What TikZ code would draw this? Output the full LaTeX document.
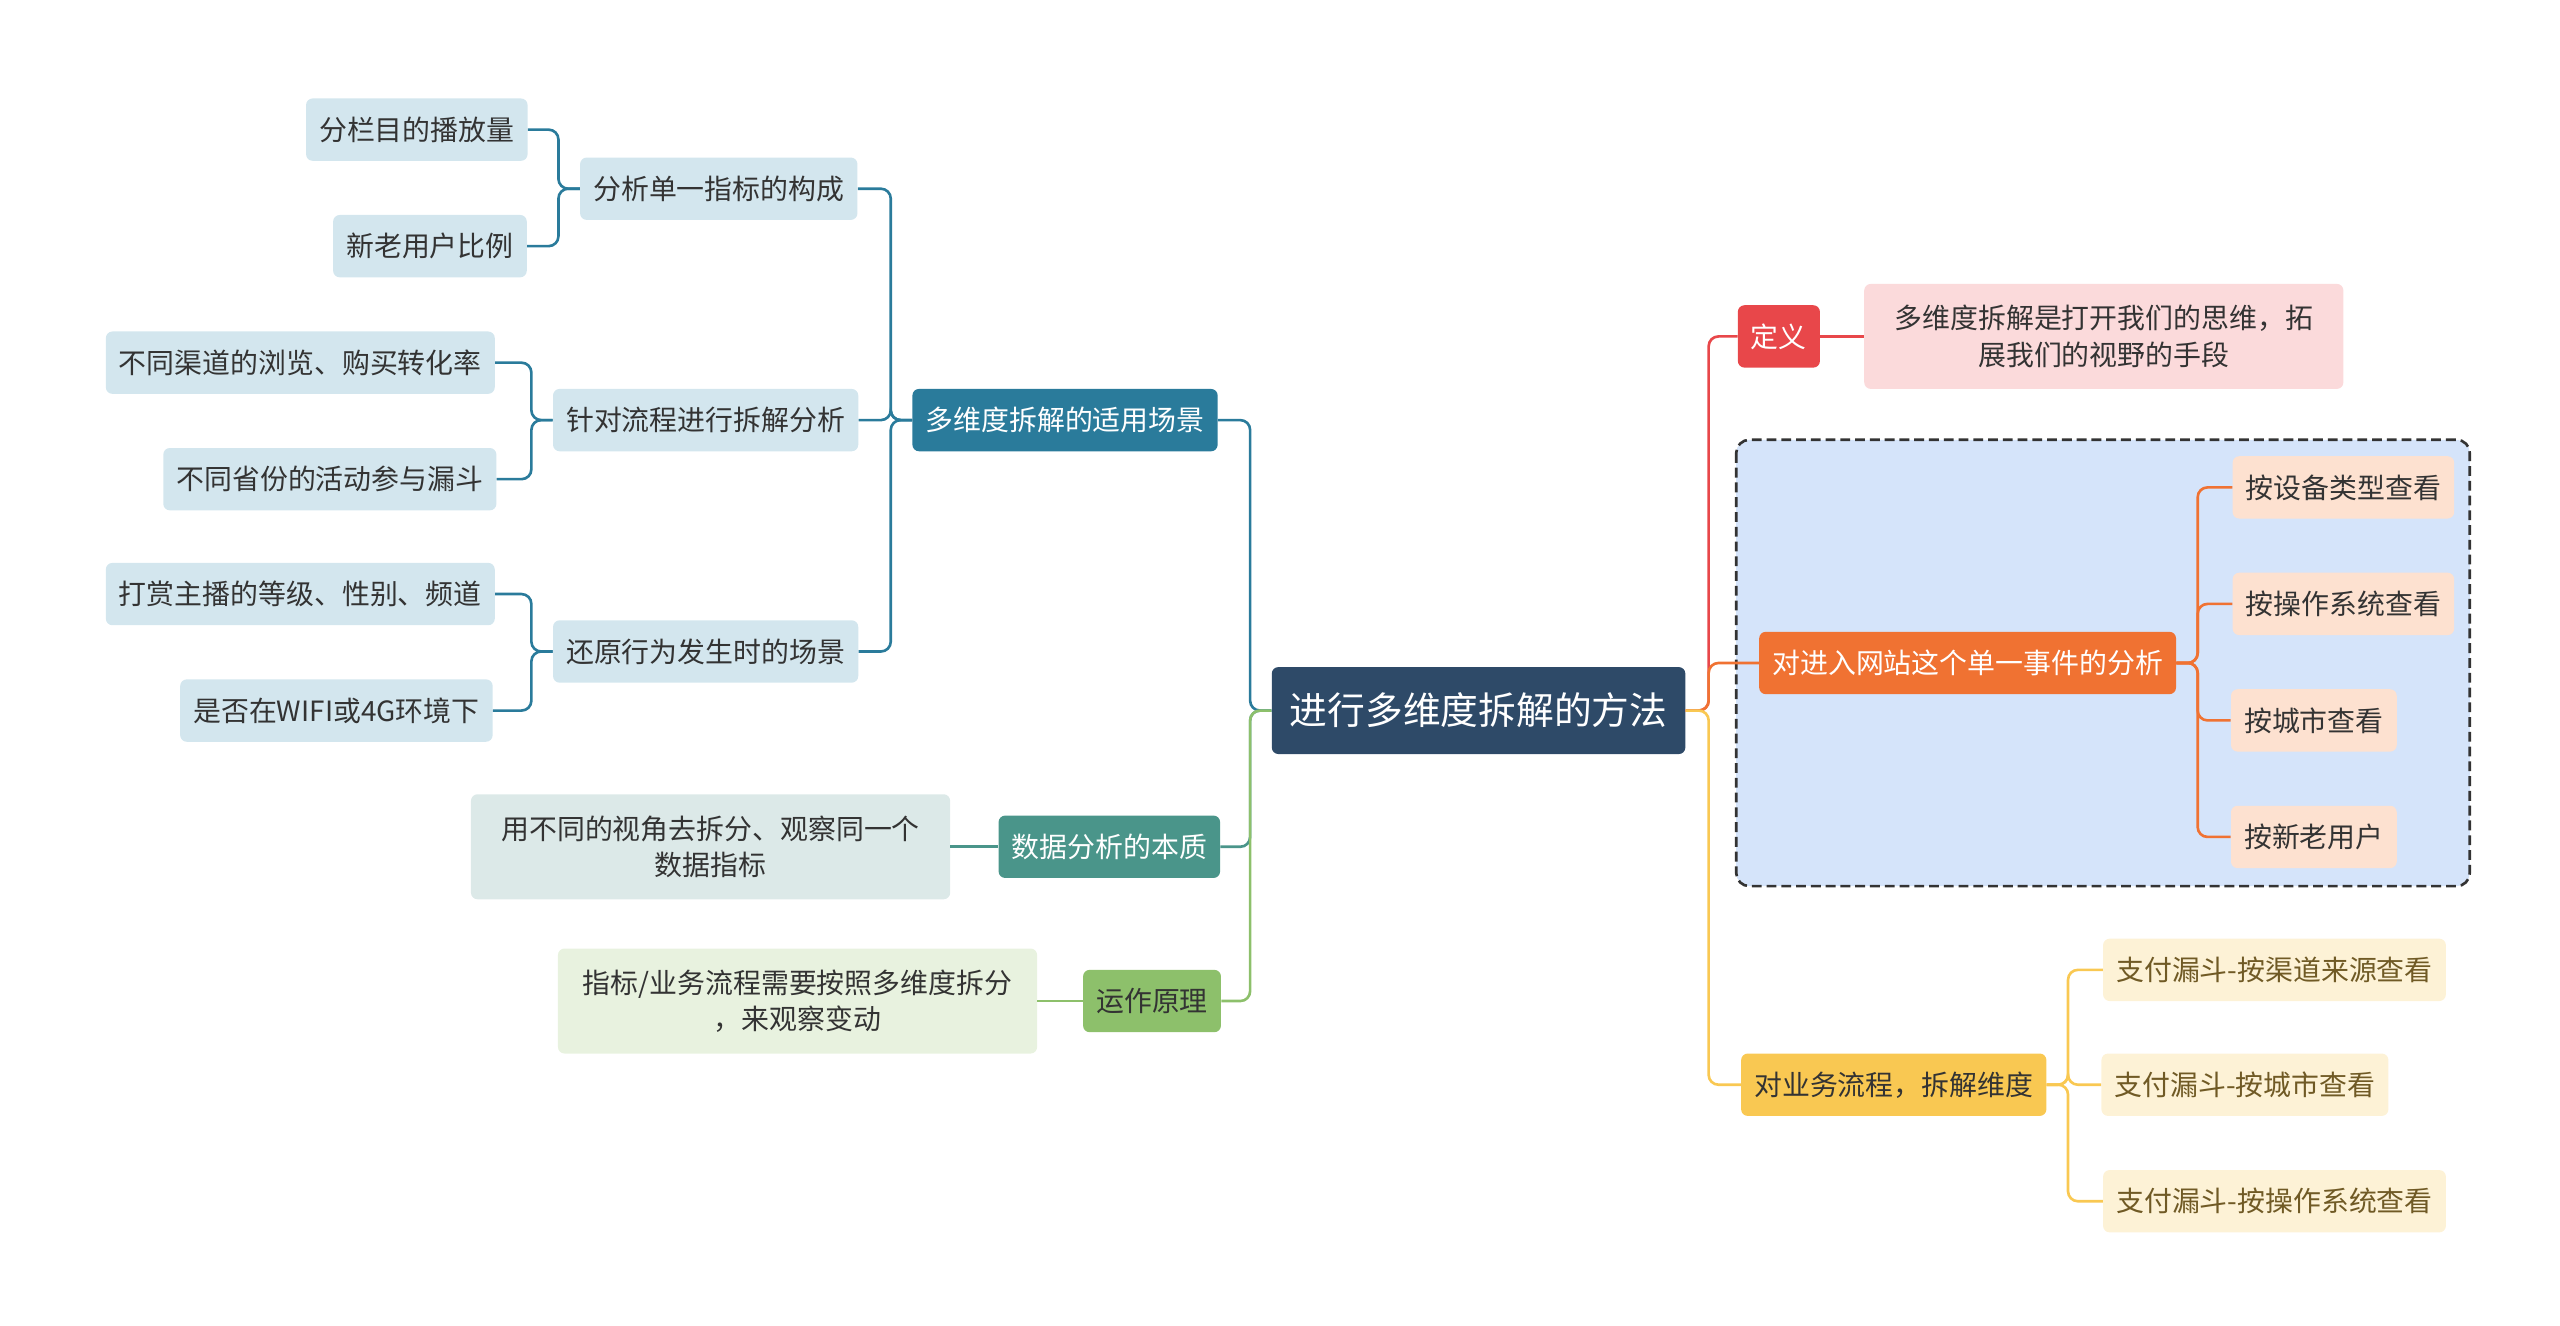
\documentclass[tikz,border=0pt]{standalone}
\usepackage{fontspec}
\setmainfont{Noto Sans CJK SC}
\usetikzlibrary{positioning}
\definecolor{rootc}{HTML}{2E4A68}
\definecolor{bluec}{HTML}{2A7B9B}
\definecolor{bluel}{HTML}{D3E6EE}
\definecolor{tealc}{HTML}{4A958A}
\definecolor{teall}{HTML}{DCE9E8}
\definecolor{greenc}{HTML}{8DC06B}
\definecolor{greenl}{HTML}{E8F2DF}
\definecolor{redc}{HTML}{E8474A}
\definecolor{redl}{HTML}{FBDADB}
\definecolor{orangec}{HTML}{F07232}
\definecolor{orangel}{HTML}{FDE1D0}
\definecolor{yellowc}{HTML}{F9C852}
\definecolor{yellowl}{HTML}{FDF2D6}
\definecolor{boxbg}{HTML}{D5E4FA}
\tikzset{
  box/.style={rounded corners=4pt, inner xsep=8pt, inner ysep=0pt, minimum height=38pt,
    font=\fontsize{17}{22}\selectfont, text=black!80, align=center},
  rootbox/.style={box, fill=rootc, text=white, minimum height=53pt, inner xsep=11pt,
    font=\fontsize{23}{28}\selectfont},
  link/.style={line width=1.6pt, rounded corners=6pt}
}
\begin{document}
\begin{tikzpicture}[x=1pt,y=-1pt]
\useasboundingbox (0,0) rectangle (1560,808);
% dashed frame
\draw[fill=boxbg, dash pattern=on 6pt off 3pt, line width=1.6pt, rounded corners=8pt, draw=black!80] (1058,268) rectangle (1505,540);
% root
\node[rootbox] (root) at (901,433) {进行多维度拆解的方法};
% left side
\node[box, fill=bluec, text=white] (scene) at (649,256) {多维度拆解的适用场景};
\node[box, fill=bluel] (single) at (438,115) {分析单一指标的构成};
\node[box, fill=bluel] (flow) at (430,256) {针对流程进行拆解分析};
\node[box, fill=bluel] (restore) at (430,397) {还原行为发生时的场景};
\node[box, fill=bluel] (s1) at (254,79) {分栏目的播放量};
\node[box, fill=bluel] (s2) at (262,150) {新老用户比例};
\node[box, fill=bluel] (f1) at (183,221) {不同渠道的浏览、购买转化率};
\node[box, fill=bluel] (f2) at (201,292) {不同省份的活动参与漏斗};
\node[box, fill=bluel] (r1) at (183,362) {打赏主播的等级、性别、频道};
\node[box, fill=bluel] (r2) at (205,433) {是否在WIFI或4G环境下};
\node[box, fill=tealc, text=white] (essence) at (676,516) {数据分析的本质};
\node[box, fill=teall, minimum height=64pt, text width=276pt, inner xsep=8pt] (e1) at (433,516) {用不同的视角去拆分、观察同一个\\数据指标};
\node[box, fill=greenc] (principle) at (702,610) {运作原理};
\node[box, fill=greenl, minimum height=64pt, text width=276pt] (p1) at (486,610) {指标/业务流程需要按照多维度拆分\\，来观察变动};
% right side
\node[box, fill=redc, text=white] (def) at (1084,205) {定义};
\node[box, fill=redl, minimum height=64pt, text width=276pt] (d1) at (1282,205) {多维度拆解是打开我们的思维，拓\\展我们的视野的手段};
\node[box, fill=orangec, text=white] (visit) at (1199,404) {对进入网站这个单一事件的分析};
\node[box, fill=orangel] (v1) at (1428,297) {按设备类型查看};
\node[box, fill=orangel] (v2) at (1428,368) {按操作系统查看};
\node[box, fill=orangel] (v3) at (1410,439) {按城市查看};
\node[box, fill=orangel] (v4) at (1410,510) {按新老用户};
\node[box, fill=yellowc] (biz) at (1154,661) {对业务流程，拆解维度};
\node[box, fill=yellowl, text=yellowc!45!black] (b1) at (1386,591) {支付漏斗-按渠道来源查看};
\node[box, fill=yellowl, text=yellowc!45!black] (b2) at (1368,661) {支付漏斗-按城市查看};
\node[box, fill=yellowl, text=yellowc!45!black] (b3) at (1386,732) {支付漏斗-按操作系统查看};
% connectors left
\draw[link, bluec] (root.west) -- ++(-13,0) |- (scene.east);
\draw[link, tealc] (root.west) -- ++(-13,0) |- (essence.east);
\draw[link, greenc] (root.west) -- ++(-13,0) |- (principle.east);
\foreach \c in {single,flow,restore}
  \draw[link, bluec] (scene.west) -- ++(-13,0) |- (\c.east);
\foreach \c in {s1,s2}
  \draw[link, bluec] (single.west) -- ++(-13,0) |- (\c.east);
\foreach \c in {f1,f2}
  \draw[link, bluec] (flow.west) -- ++(-13,0) |- (\c.east);
\foreach \c in {r1,r2}
  \draw[link, bluec] (restore.west) -- ++(-13,0) |- (\c.east);
\draw[link, tealc] (essence.west) -- (e1.east);
\draw[link, greenc] (principle.west) -- (p1.east);
% connectors right
\draw[link, redc] (root.east) -- ++(14,0) |- (def.west);
\draw[link, orangec] (root.east) -- ++(14,0) |- (visit.west);
\draw[link, yellowc] (root.east) -- ++(14,0) |- (biz.west);
\draw[link, redc] (def.east) -- (d1.west);
\foreach \c in {v1,v2,v3,v4}
  \draw[link, orangec] (visit.east) -- ++(13,0) |- (\c.west);
\foreach \c in {b1,b2,b3}
  \draw[link, yellowc] (biz.east) -- ++(13,0) |- (\c.west);
\end{tikzpicture}
\end{document}
